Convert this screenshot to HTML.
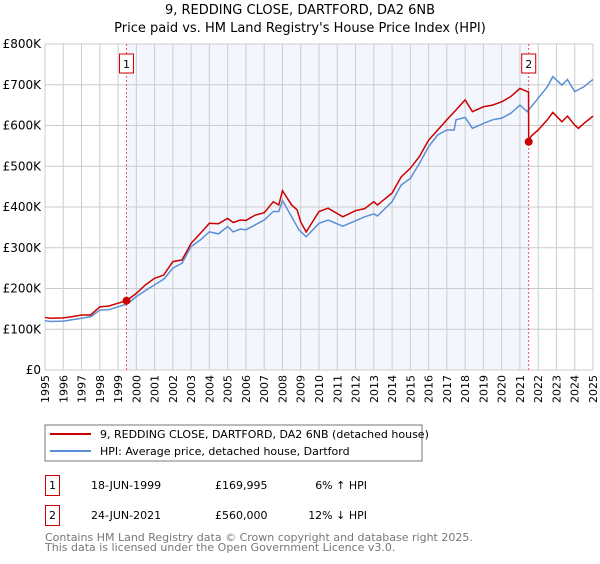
<!DOCTYPE html>
<html><head><meta charset="utf-8"><style>
body{margin:0;background:#fff;font-family:"DejaVu Sans","Liberation Sans",sans-serif;}
svg text{font-family:"DejaVu Sans","Liberation Sans",sans-serif;}
</style></head><body>
<svg id="c" width="600" height="560" viewBox="0 0 600 560" xmlns="http://www.w3.org/2000/svg">
<text x="300" y="14" text-anchor="middle" font-size="13" fill="#000">9, REDDING CLOSE, DARTFORD, DA2 6NB</text>
<text x="300" y="32" text-anchor="middle" font-size="13" fill="#000">Price paid vs. HM Land Registry's House Price Index (HPI)</text>
<g id="plot"></g>
<rect x="45" y="425" width="377" height="36" fill="#fff" stroke="#777"/>
<line x1="50" y1="434" x2="91" y2="434" stroke="#cc0000" stroke-width="2"/>
<text x="100" y="438" font-size="11">9, REDDING CLOSE, DARTFORD, DA2 6NB (detached house)</text>
<line x1="50" y1="451" x2="91" y2="451" stroke="#5b8fd6" stroke-width="2"/>
<text x="100" y="455" font-size="11">HPI: Average price, detached house, Dartford</text>
<g font-size="11">
<rect x="45.5" y="475.5" width="14" height="20" fill="#fff" stroke="#cc0000"/>
<text x="52.5" y="489" text-anchor="middle">1</text>
<text x="91" y="489">18-JUN-1999</text><text x="215" y="489">£169,995</text><text x="367" y="489" text-anchor="end">6% ↑ HPI</text>
<rect x="45.5" y="505.5" width="14" height="20" fill="#fff" stroke="#cc0000"/>
<text x="52.5" y="519" text-anchor="middle">2</text>
<text x="91" y="519">24-JUN-2021</text><text x="215" y="519">£560,000</text><text x="367" y="519" text-anchor="end">12% ↓ HPI</text>
</g>
<text x="45" y="541" font-size="11" fill="#777">Contains HM Land Registry data © Crown copyright and database right 2025.</text>
<text x="45" y="551" font-size="11" fill="#777">This data is licensed under the Open Government Licence v3.0.</text>
</svg>
<script>
const hpiYears=[1995,1995.3,1996,1997,1997.5,1998,1998.5,1999,1999.5,2000,2000.5,2001,2001.5,2002,2002.5,2003,2003.5,2004,2004.5,2005,2005.3,2005.7,2006,2006.5,2007,2007.5,2007.8,2008,2008.5,2008.9,2009.3,2010,2010.5,2011.3,2012,2012.5,2013,2013.2,2014,2014.5,2015,2015.5,2016,2016.5,2017,2017.4,2017.5,2018,2018.4,2019,2019.5,2020,2020.5,2021,2021.4,2022,2022.5,2022.8,2023.3,2023.6,2024,2024.5,2025];
const hpiValues=[121,119,120,127,131,147,148,155,162,180,195,209,223,250,262,303,319,339,334,352,339,346,344,356,368,389,389,416,376,344,327,360,368,353,366,376,383,378,413,454,470,507,548,577,589,589,614,620,593,605,614,618,630,650,634,667,695,720,699,713,683,695,713];
const propYears=[1995,1995.3,1996,1996.5,1997,1997.5,1998,1998.5,1999,1999.46,2000,2000.5,2001,2001.5,2002,2002.5,2003,2003.5,2004,2004.5,2005,2005.3,2005.7,2006,2006.5,2007,2007.5,2007.8,2008,2008.5,2008.8,2009,2009.3,2010,2010.5,2011.3,2012,2012.5,2013,2013.2,2014,2014.5,2015,2015.5,2016,2016.5,2017,2017.5,2018,2018.4,2019,2019.5,2020,2020.5,2021,2021.4,2021.47,2021.48,2021.6,2022,2022.5,2022.8,2023.3,2023.6,2024,2024.2,2024.5,2025];
const propValues=[129,127,128,131,135,135,155,157,164,170,188,209,225,233,266,270,311,335,360,359,372,362,368,367,380,386,413,405,440,405,393,363,339,389,397,376,391,396,413,405,434,474,495,524,564,589,614,638,663,634,646,650,658,671,691,683,683,560,573,589,614,632,609,623,601,593,605,623];
const saleYears=[1999.46,2021.48];
const saleValues=[169.995,560];
const saleLabels=["1","2"];
const yTicks=[0,100,200,300,400,500,600,700,800];
const yTickLabels=["£0","£100K","£200K","£300K","£400K","£500K","£600K","£700K","£800K"];
const xTicks=[1995,1996,1997,1998,1999,2000,2001,2002,2003,2004,2005,2006,2007,2008,2009,2010,2011,2012,2013,2014,2015,2016,2017,2018,2019,2020,2021,2022,2023,2024,2025];

const X0=45,X1=593,Y0=370,Y1=44;
const xs=y=>X0+(y-1995)/30*(X1-X0);
const ys=v=>Y0-v/800*(Y0-Y1);
const NS="http://www.w3.org/2000/svg";
const g=document.getElementById('plot');
function mk(t,a){const e=document.createElementNS(NS,t);for(const k in a)e.setAttribute(k,a[k]);g.appendChild(e);return e;}
const bg=mk('rect',{x:X0,y:Y1,width:X1-X0,height:Y0-Y1,fill:'#fff'});


const sh=mk('rect',{x:xs(saleYears[0]),y:Y1,width:xs(saleYears[1])-xs(saleYears[0]),height:Y0-Y1,fill:'#eef3fc',opacity:0.7});


xTicks.forEach(t=>{
  const l=mk('line',{x1:xs(t),x2:xs(t),y1:Y1,y2:Y0,stroke:'#ccc','stroke-width':1});
  
  
  const tx=mk('text',{x:0,y:0,'font-size':11,'text-anchor':'end',transform:`translate(${xs(t)+4},${Y0+5}) rotate(-90)`});
  tx.textContent=t;
  
  
});
yTicks.forEach((t,i)=>{
  const l=mk('line',{x1:X0,x2:X1,y1:ys(t),y2:ys(t),stroke:'#ccc','stroke-width':1});
  
  
  const tx=mk('text',{x:X0-4,y:ys(t)+4,'font-size':12,'text-anchor':'end'});
  tx.textContent=yTickLabels[i];
  
  
});
saleYears.forEach((s,i)=>{
  const l=mk('line',{x1:xs(s),x2:xs(s),y1:Y1,y2:Y0,stroke:'#ee5555','stroke-width':1,'stroke-dasharray':'2,2'});
  
  
  const b=mk('rect',{x:xs(s)-7,y:54,width:14,height:19,fill:'#fff',stroke:'#cc0000'});
  
  
  const t=mk('text',{x:xs(s),y:68,'font-size':11,'text-anchor':'middle'});
  t.textContent=saleLabels[i];
  
  
});
const hp=mk('polyline',{points:hpiYears.map((y,i)=>xs(y)+','+ys(hpiValues[i])).join(' '),fill:'none',stroke:'#5b8fd6','stroke-width':1.5});


const pp=mk('polyline',{points:propYears.map((y,i)=>xs(y)+','+ys(propValues[i])).join(' '),fill:'none',stroke:'#cc0000','stroke-width':1.5});


saleYears.forEach((s,i)=>{
  const c=mk('circle',{cx:xs(s),cy:ys(saleValues[i]),r:4,fill:'#cc0000'});
  
  
});
</script>
</body></html>
